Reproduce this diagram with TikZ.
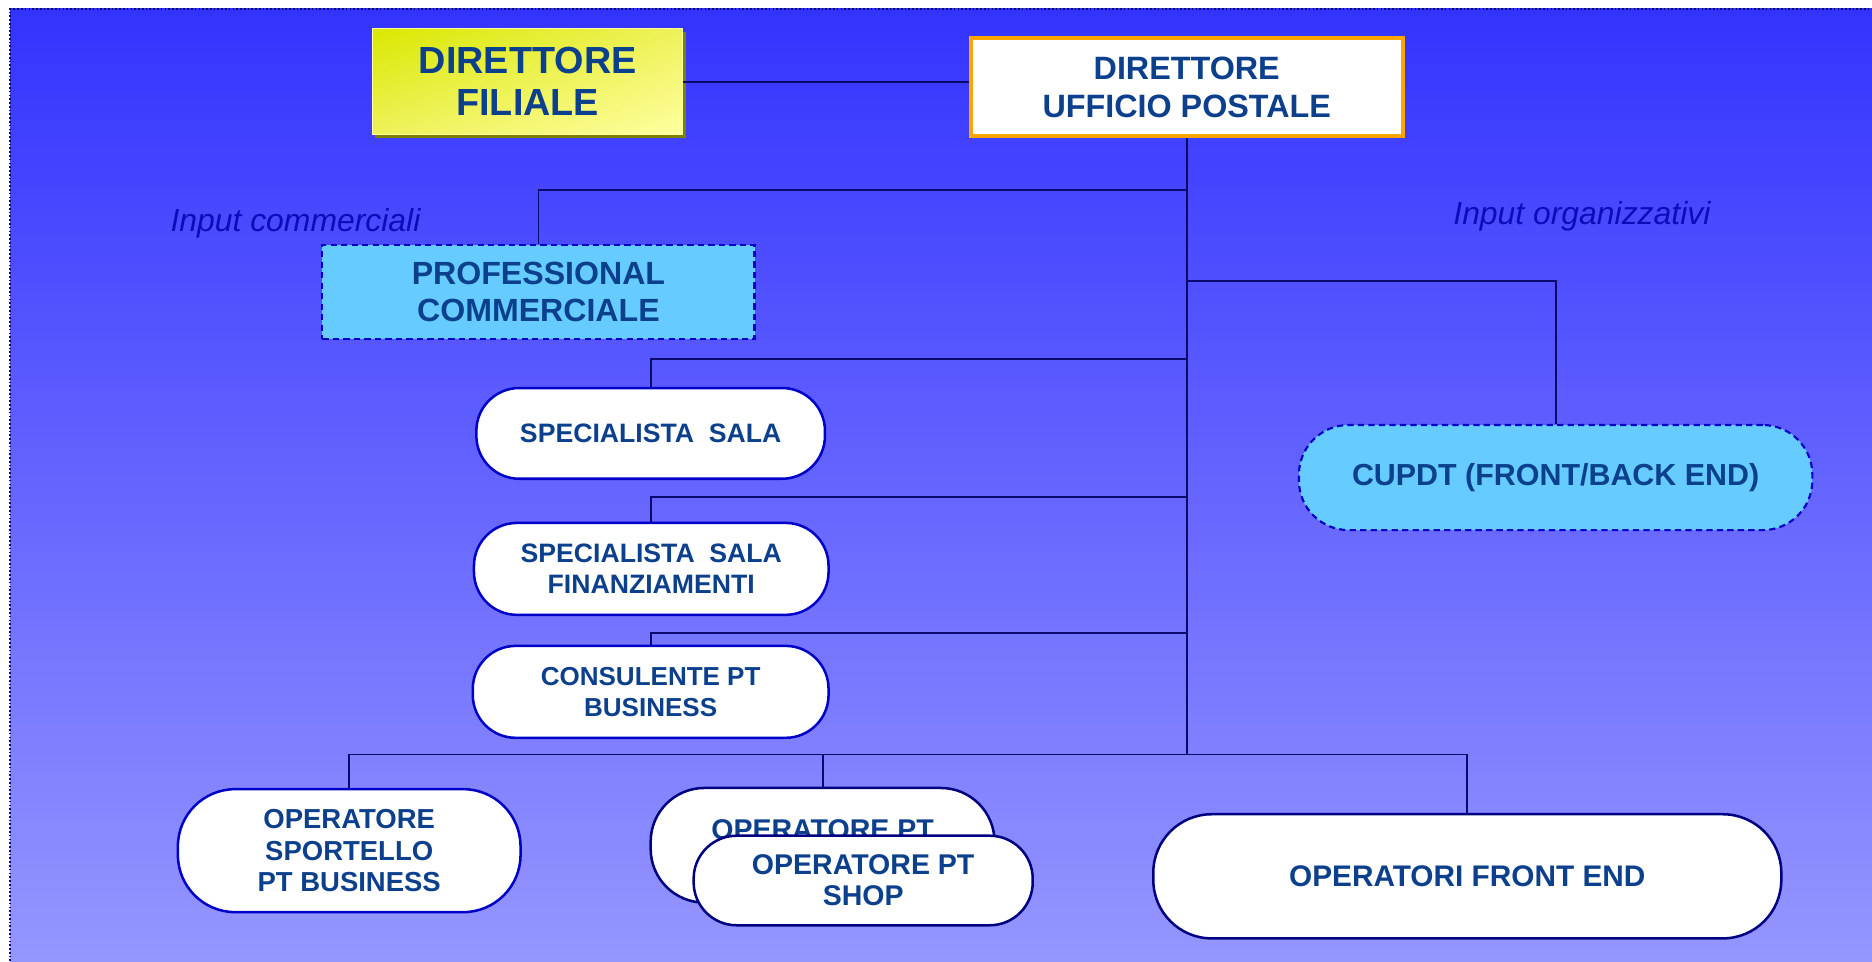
\documentclass[tikz,border=0pt]{standalone}
\usepackage{fontspec}
\setmainfont{Liberation Sans}
\usetikzlibrary{shadows,shadings}
\definecolor{bgtop}{RGB}{51,51,255}
\definecolor{bgbot}{RGB}{150,150,255}
\definecolor{txt}{RGB}{12,64,140}
\definecolor{lbl}{RGB}{12,12,185}
\definecolor{wire}{RGB}{10,10,110}
\definecolor{rim}{RGB}{0,0,200}
\definecolor{rimdark}{RGB}{0,0,128}
\definecolor{cyanbox}{RGB}{102,204,255}
\definecolor{orng}{RGB}{255,165,0}
\definecolor{ylwA}{RGB}{218,232,0}
\definecolor{ylwB}{RGB}{255,255,160}
\definecolor{ylwC}{RGB}{238,242,90}
\definecolor{olv}{RGB}{128,128,0}

\begin{document}
\begin{tikzpicture}[x=0.2mm,y=-0.2mm,
  box/.style={align=center,text=txt,inner sep=0pt},
  pill/.style={box,draw=rim,line width=1.2pt,fill=white,rounded corners=#1},
  dashbox/.style={box,draw=rim,line width=1pt,dash pattern=on 3pt off 2pt,fill=cyanbox},
  wires/.style={draw=wire,line width=0.9pt},
  inp/.style={text=lbl,font=\itshape\fontsize{15.2}{18}\selectfont}]
\useasboundingbox (0,0) rectangle (1568,805);
\shade[top color=bgtop,bottom color=bgbot] (8.5,7.5) rectangle (1568,805);
\draw[wire,densely dotted,line width=0.8pt] (8.5,805) -- (8.5,7.5) -- (1568,7.5);

% top
\node[box,font=\bfseries\fontsize{18}{20}\selectfont,minimum width=52mm,minimum height=17.8mm,
      upper left=ylwA,upper right=ylwC,lower left=ylwC,lower right=ylwB,draw=ylwB,line width=0.4pt,
      drop shadow={fill=olv,opacity=1,shadow xshift=0.5mm,shadow yshift=-0.5mm}]
      (fil) at (442,68.5) {DIRETTORE\\FILIALE};
\node[box,font=\bfseries\fontsize{15.4}{18.2}\selectfont,draw=orng,line width=1.8pt,fill=white,
      minimum width=72.4mm,minimum height=16.4mm] (uff) at (994,73) {DIRETTORE\\UFFICIO POSTALE};

% dashed
\node[dashbox,font=\bfseries\fontsize{15.3}{17.6}\selectfont,minimum width=72.4mm,minimum height=15.8mm]
      (prof) at (451,244.5) {PROFESSIONAL\\COMMERCIALE};
\node[dashbox,rounded corners=8.3mm,font=\bfseries\fontsize{14.5}{17}\selectfont,minimum width=86mm,minimum height=17.6mm]
      (cupdt) at (1303,400) {CUPDT (FRONT/BACK END)};
\node[inp] (inpc) at (247.5,187) {Input commerciali};
\node[inp] (inpo) at (1325,181) {Input organizzativi};

% middle column
\node[pill=7.2mm,font=\bfseries\fontsize{12.7}{14.8}\selectfont,minimum width=58.4mm,minimum height=15.2mm]
      (sala) at (545,363) {SPECIALISTA\hspace{0.55em}SALA};
\node[pill=7.2mm,font=\bfseries\fontsize{12.7}{14.8}\selectfont,minimum width=59.4mm,minimum height=15.4mm]
      (fin) at (545.5,476.5) {SPECIALISTA\hspace{0.55em}SALA\\FINANZIAMENTI};
\node[pill=7.2mm,font=\bfseries\fontsize{12.4}{14.8}\selectfont,minimum width=59.6mm,minimum height=15.4mm]
      (cons) at (545,579.5) {CONSULENTE PT\\BUSINESS};

% bottom row
\node[pill=9.6mm,draw=rim,font=\bfseries\fontsize{13.1}{15}\selectfont,minimum width=57.4mm,minimum height=20.6mm]
      (sport) at (292.5,712.5) {OPERATORE\\SPORTELLO\\PT BUSINESS};
\node[pill=9mm,draw=rimdark,font=\bfseries\fontsize{13.6}{14.8}\selectfont,minimum width=57.6mm,minimum height=19.2mm]
      (optb) at (689,708) {OPERATORE PT\\\phantom{SHOP}};
\node[pill=7.2mm,draw=rimdark,font=\bfseries\fontsize{13.6}{14.8}\selectfont,minimum width=56.8mm,minimum height=15mm]
      (shop) at (723,737.5) {OPERATORE PT\\SHOP};
\node[pill=9.8mm,draw=rimdark,font=\bfseries\fontsize{14.2}{17}\selectfont,minimum width=105.2mm,minimum height=20.8mm]
      (front) at (1229,734) {OPERATORI FRONT END};

% trunk
\coordinate (hub) at (994,632);
\coordinate (t1) at (994,159);
\coordinate (t2) at (994,235);
\coordinate (t3) at (994,301);
\coordinate (t4) at (994,416);
\coordinate (t5) at (994,530);
\draw[wires] (fil.east) -- (fil.east -| uff.west);
\draw[wires] (uff.south) -- (hub);
\draw[wires] (t1) -| (prof.north);
\draw[wires] (t2) -| (cupdt.north);
\draw[wires] (t3) -| (sala.north);
\draw[wires] (t4) -| (fin.north);
\draw[wires] (t5) -| (cons.north);
\draw[wires] (sport.north) |- (hub) -| (front.north);
\draw[wires] (optb.north) -- (optb.north |- hub);
\end{tikzpicture}
\end{document}
